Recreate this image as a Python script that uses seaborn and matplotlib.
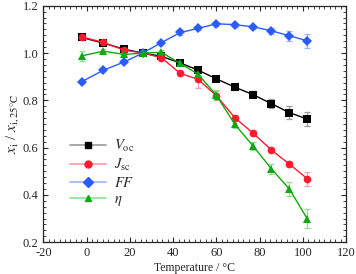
import matplotlib
matplotlib.use("Agg")
import matplotlib.pyplot as plt
from matplotlib.lines import Line2D
from matplotlib.ticker import MultipleLocator
import pandas as pd
import seaborn as sns

temperature = [-2.3, 7.7, 17.5, 26, 34.6, 43.3, 51.5, 60, 68.5, 77, 85.5, 93.8, 102]

voc = [1.066, 1.042, 1.016, 1.0, 0.986, 0.958, 0.928, 0.891, 0.856, 0.824, 0.786, 0.748, 0.721]
jsc = [1.068, 1.045, 1.012, 1.0, 0.980, 0.914, 0.889, 0.820, 0.727, 0.661, 0.590, 0.530, 0.469]
ff = [0.879, 0.927, 0.963, 1.0, 1.044, 1.087, 1.104, 1.124, 1.120, 1.111, 1.094, 1.073, 1.052]
eta = [0.988, 1.008, 0.994, 1.0, 1.003, 0.956, 0.911, 0.822, 0.699, 0.607, 0.510, 0.425, 0.300]

voc_err = [0.005, 0.005, 0.005, 0.0, 0.006, 0.008, 0.008, 0.010, 0.012, 0.015, 0.020, 0.028, 0.030]
jsc_err = [0.012, 0.008, 0.006, 0.0, 0.008, 0.010, 0.035, 0.020, 0.010, 0.010, 0.010, 0.012, 0.030]
ff_err = [0.005, 0.005, 0.005, 0.0, 0.006, 0.010, 0.008, 0.008, 0.008, 0.008, 0.012, 0.020, 0.030]
eta_err = [0.020, 0.010, 0.006, 0.0, 0.010, 0.012, 0.010, 0.020, 0.015, 0.015, 0.022, 0.030, 0.040]

labels = [r"$V_{\rm oc}$", r"$J_{\rm sc}$", r"$FF$", r"$\eta$"]
colors = ["#000000", "#ff1a2e", "#2a5cff", "#10a810"]
light = ["#9a9a9a", "#ff9aa8", "#9ab4ff", "#8de08d"]
markers = ["s", "o", "D", "^"]

sns.set_style("ticks")
plt.rcParams["font.family"] = ["Liberation Serif", "DejaVu Serif"]
plt.rcParams["mathtext.fontset"] = "stix"
plt.rcParams["axes.unicode_minus"] = False

rows = []
for lab, vals in zip(labels, [voc, jsc, ff, eta]):
    for t, v in zip(temperature, vals):
        rows.append({"T": t, "value": v, "series": lab})
df = pd.DataFrame(rows)

fig = plt.figure(figsize=(3.56, 2.74), dpi=100)
ax = fig.add_axes([0.122, 0.116, 0.850, 0.863])

errs = [voc_err, jsc_err, ff_err, eta_err]
for i, lab in enumerate(labels):
    vals = df[df["series"] == lab]["value"].tolist()
    ax.errorbar(temperature, vals, yerr=errs[i], fmt="none", ecolor=light[i],
                elinewidth=0.9, capsize=2.2, capthick=0.9, zorder=1)

sns.lineplot(data=df, x="T", y="value", hue="series", style="series",
             palette=dict(zip(labels, colors)), markers=dict(zip(labels, markers)),
             dashes=False, markersize=5.5, markeredgewidth=0, linewidth=1.0,
             legend=False, ax=ax, zorder=2)

ax.set_xlim(-20, 120)
ax.set_ylim(0.2, 1.2)
ax.xaxis.set_major_locator(MultipleLocator(20))
ax.xaxis.set_minor_locator(MultipleLocator(2.5))
ax.yaxis.set_major_locator(MultipleLocator(0.2))
ax.yaxis.set_minor_locator(MultipleLocator(0.025))
ax.tick_params(which="both", direction="in", top=True, right=True, labelsize=9)
ax.tick_params(which="major", length=3.5, width=0.8)
ax.tick_params(which="minor", length=2, width=0.6)
for s in ax.spines.values():
    s.set_linewidth(0.9)

ax.set_xlabel("Temperature / \u00b0C", fontsize=8.5, labelpad=2)
ax.set_ylabel(r"$x_{\rm i}$ / $x_{\rm i,25\degree C}$", fontsize=11, labelpad=1)

handles = [Line2D([0], [0], color=light[i], marker=markers[i], markerfacecolor=colors[i],
                  markeredgecolor=colors[i], markersize=5, linewidth=1.2)
           for i in range(4)]
ax.legend(handles, labels, loc="upper left", bbox_to_anchor=(0.068, 0.465), frameon=False,
          fontsize=10.5, handlelength=2.5, labelspacing=0.2, handletextpad=0.5,
          borderaxespad=0)

fig.savefig("out.png", dpi=100)
